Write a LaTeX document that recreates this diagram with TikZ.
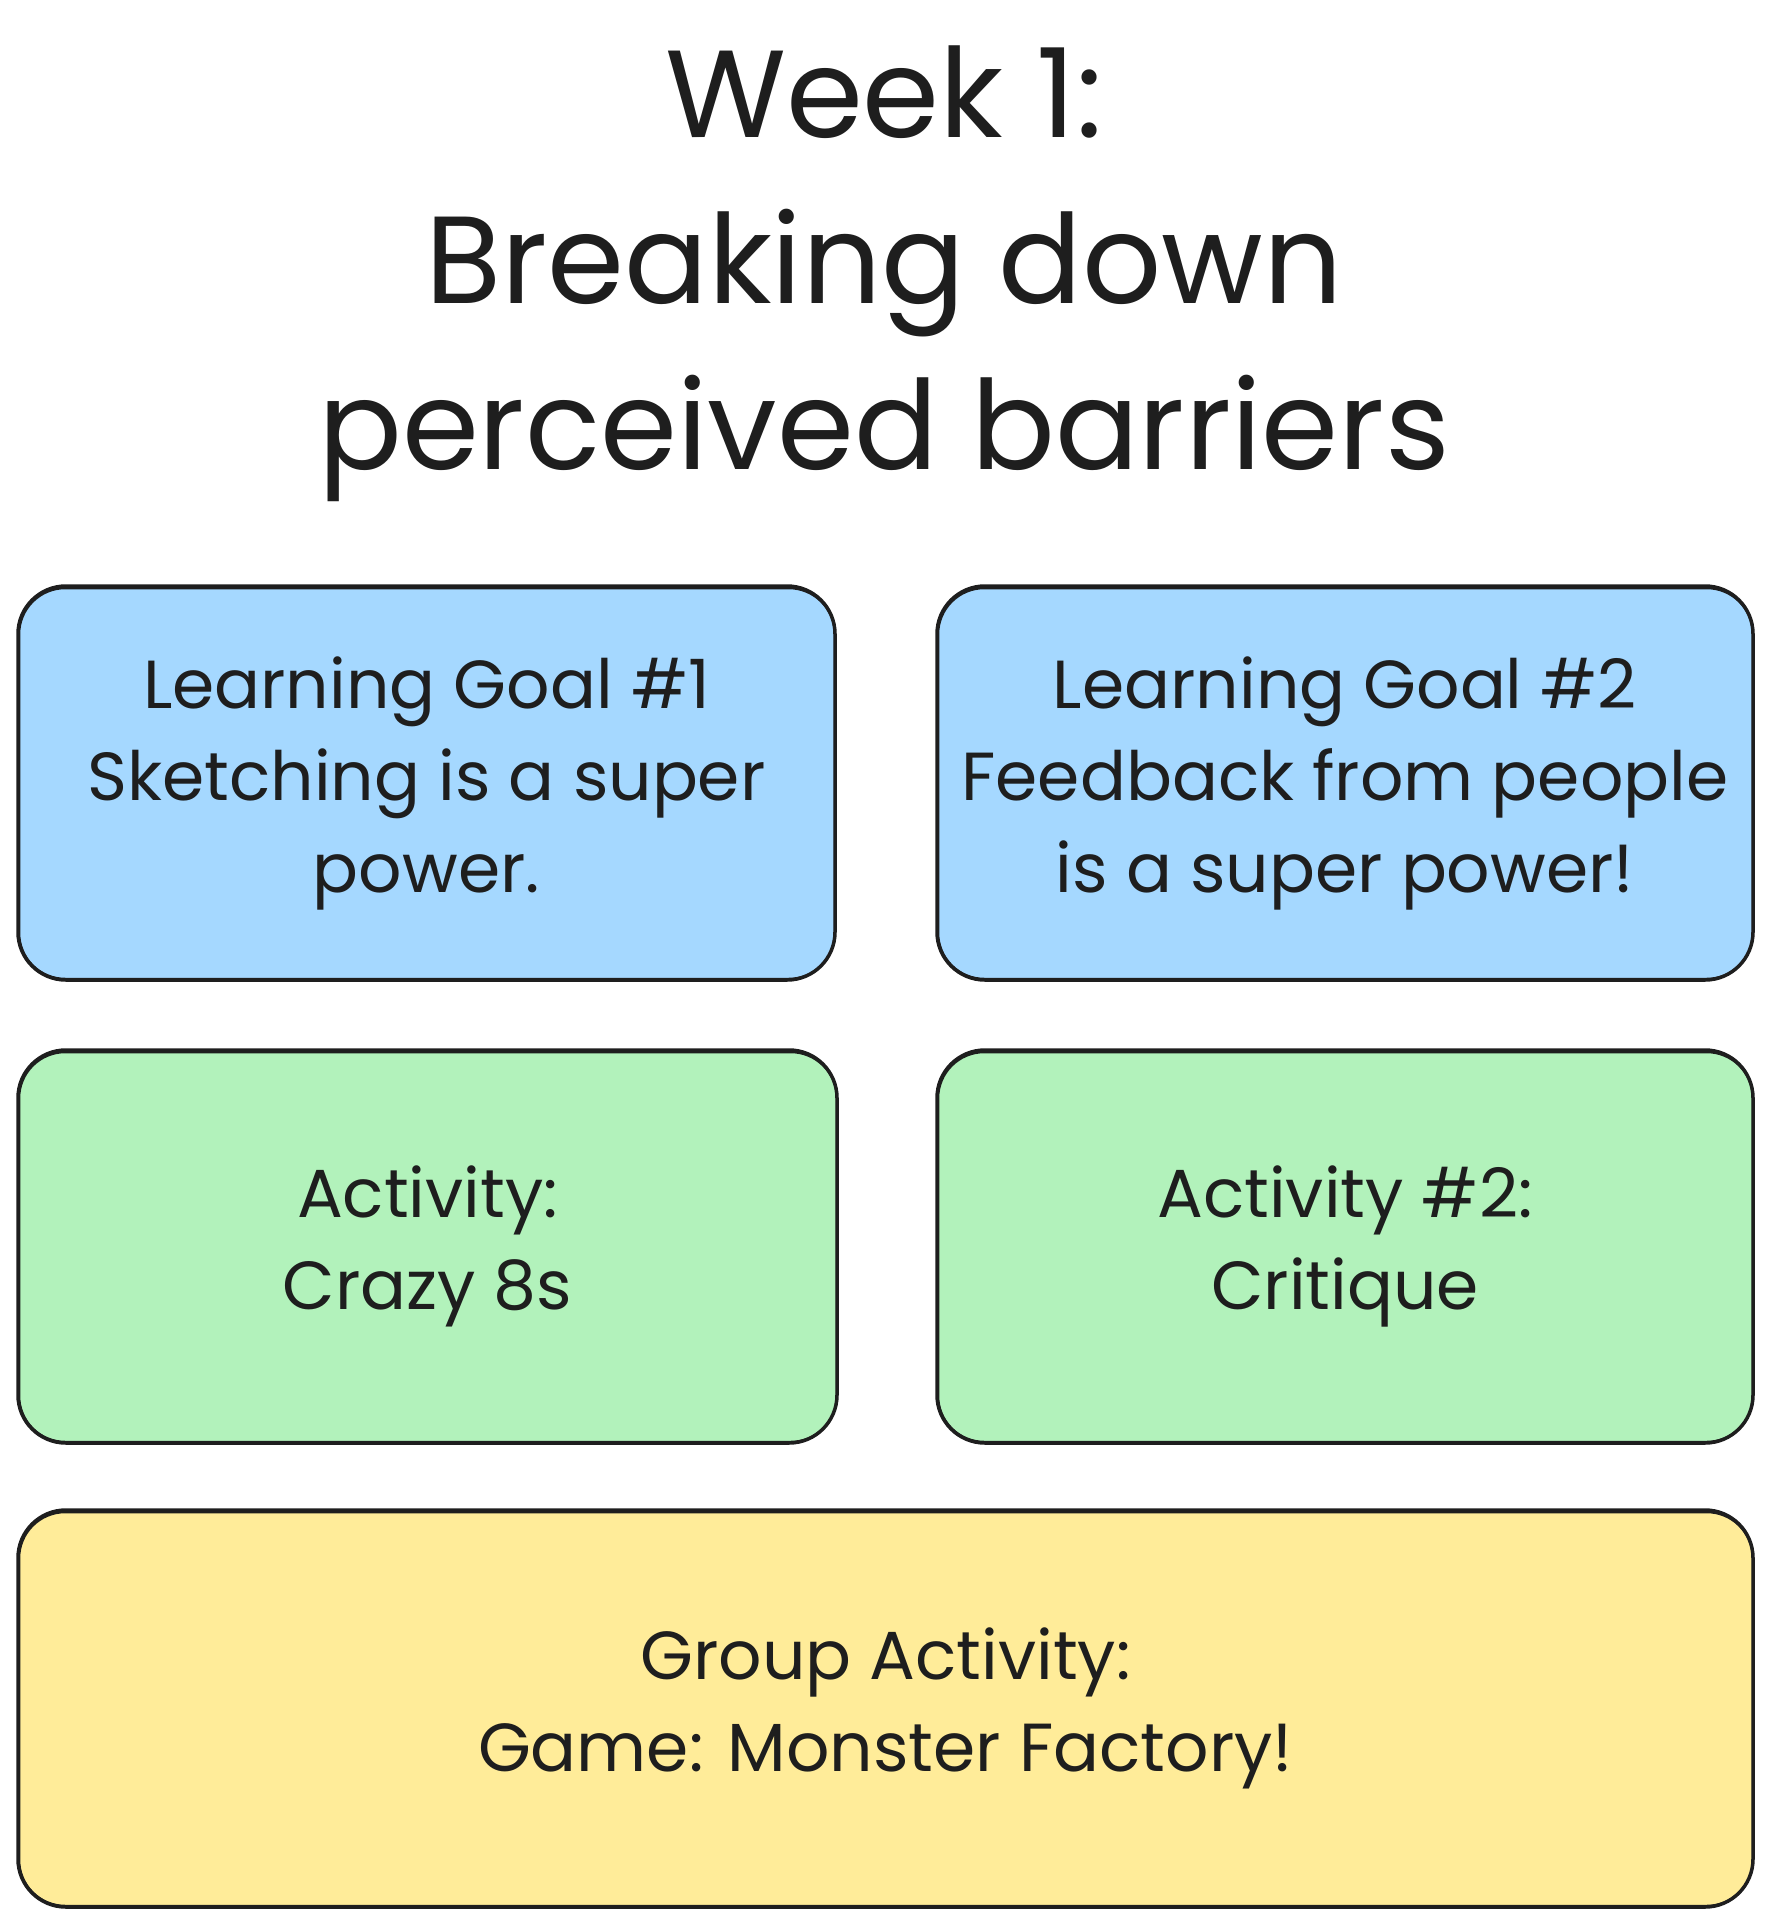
\documentclass[tikz,border=0pt]{standalone}
\usepackage{fontspec}
\setmainfont{Poppins}
\definecolor{ink}{HTML}{1E1E1E}
\definecolor{bluef}{HTML}{A5D8FF}
\definecolor{greenf}{HTML}{B2F2BB}
\definecolor{yellowf}{HTML}{FFEC99}
\begin{document}
\begin{tikzpicture}[x=1pt,y=-1pt,
  card/.style={draw=ink, line width=3.5pt, rounded corners=48pt, inner sep=0pt,
    align=center, text=ink, font=\fontsize{68}{92}\selectfont},
  sketchline/.style={draw=ink, line width=2pt, rounded corners=46pt},
  titletext/.style={align=center, text=ink, font=\fontsize{124}{166}\selectfont}]
\useasboundingbox (0,0) rectangle (1768,1921);
\fill[white] (0,0) rectangle (1768,1921);

\node[titletext] (title) at (884,274) {Week 1:\\Breaking down\\perceived barriers};

\node[card, fill=bluef, minimum width=817pt, minimum height=394pt] (g1) at (426.5,783)
  {Learning Goal \#1\\Sketching is a super\\power.};
\node[card, fill=bluef, minimum width=816pt, minimum height=394pt] (g2) at (1345,783)
  {Learning Goal \#2\\Feedback from people\\is a super power!};
\node[card, fill=greenf, minimum width=819pt, minimum height=393pt] (a1) at (427.5,1246.5)
  {Activity:\\Crazy 8s};
\node[card, fill=greenf, minimum width=816pt, minimum height=393pt] (a2) at (1345,1246.5)
  {Activity \#2:\\Critique};
\node[card, fill=yellowf, minimum width=1735pt, minimum height=397pt] (grp) at (885.5,1708.5)
  {Group Activity:\\Game: Monster Factory!};

\foreach \n in {g1,g2,a1,a2,grp}{
  \draw[sketchline] ([shift={(3,4)}]\n.north west) rectangle ([shift={(-2,-3)}]\n.south east);
}
\end{tikzpicture}
\end{document}
